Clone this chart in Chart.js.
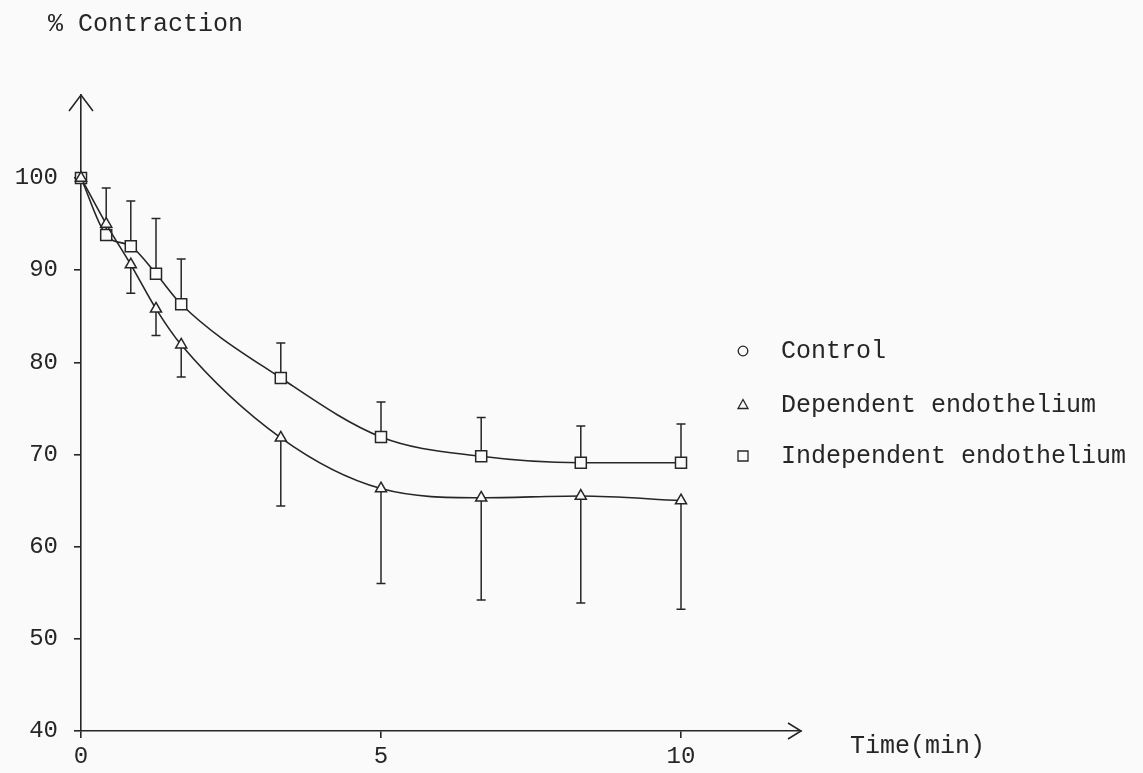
<!DOCTYPE html>
<html>
<head>
<meta charset="utf-8">
<script src="https://cdn.jsdelivr.net/npm/chart.js@4.4.1/dist/chart.umd.min.js"></script>
<style>
  html, body { margin: 0; padding: 0; background: #fafafa; }
  #wrap { width: 1143px; height: 773px; position: relative; }
  canvas { display: block; }
</style>
</head>
<body>
<div id="wrap"><canvas id="c" width="1143" height="773"></canvas></div>
<script>
// Sampling times (min) and mean % contraction with standard errors
const timeMin = [0, 0.42, 0.83, 1.25, 1.67, 3.33, 5, 6.67, 8.33, 10];
const dependentMean = [100, 95.0, 90.6, 85.8, 81.9, 71.8, 66.3, 65.3, 65.5, 65.0];
const dependentSem  = [0, 0, 3.1, 2.9, 3.5, 7.4, 10.3, 11.1, 11.6, 11.8];
const independentMean = [100, 93.8, 92.6, 89.6, 86.3, 78.3, 71.9, 69.8, 69.1, 69.1];
const independentSem  = [0, 5.1, 4.9, 6.0, 4.9, 3.8, 3.8, 4.2, 4.0, 4.2];

const yTicks = [40, 50, 60, 70, 80, 90, 100];
const xTicks = [0, 5, 10];
const seriesNames = ['Control', 'Dependent endothelium', 'Independent endothelium'];
const seriesMarkers = ['circle', 'triangle', 'rect'];

const INK = '#262626';
const PAPER = '#fafafa';
const FONT = '"Liberation Mono", "DejaVu Sans Mono", monospace';

function pts(xs, ys) { return xs.map((x, i) => ({ x: x, y: ys[i] })); }

// Error bars: dependent drawn downward, independent drawn upward
const errorBars = [
  { mean: dependentMean, err: dependentSem, dir: -1 },
  { mean: independentMean, err: independentSem, dir: 1 }
];

function drawMarker(ctx, kind, x, y) {
  ctx.beginPath();
  if (kind === 'circle') {
    ctx.arc(x, y, 4.8, 0, Math.PI * 2);
  } else if (kind === 'triangle') {
    ctx.moveTo(x, y - 5.5);
    ctx.lineTo(x + 5, y + 3.5);
    ctx.lineTo(x - 5, y + 3.5);
    ctx.closePath();
  } else {
    ctx.rect(x - 5, y - 5, 10, 10);
  }
  ctx.stroke();
}

const decor = {
  id: 'decor',
  beforeDatasetsDraw(chart) {
    const ctx = chart.ctx;
    const xs = chart.scales.x, ys = chart.scales.y;
    ctx.save();
    ctx.strokeStyle = INK;
    ctx.lineWidth = 1.5;
    errorBars.forEach(eb => {
      timeMin.forEach((t, i) => {
        if (!eb.err[i]) return;
        const px = xs.getPixelForValue(t);
        const y0 = ys.getPixelForValue(eb.mean[i]);
        const y1 = ys.getPixelForValue(eb.mean[i] + eb.dir * eb.err[i]);
        ctx.beginPath();
        ctx.moveTo(px, y0);
        ctx.lineTo(px, y1);
        ctx.moveTo(px - 4.5, y1);
        ctx.lineTo(px + 4.5, y1);
        ctx.stroke();
      });
    });
    ctx.restore();
  },
  afterDraw(chart) {
    const ctx = chart.ctx;
    const a = chart.chartArea;
    ctx.save();
    ctx.strokeStyle = INK;
    ctx.fillStyle = INK;
    ctx.lineWidth = 1.6;
    // arrowheads on both axes
    ctx.beginPath();
    ctx.moveTo(a.left - 12, a.top + 16);
    ctx.lineTo(a.left, a.top);
    ctx.lineTo(a.left + 12, a.top + 16);
    ctx.moveTo(a.right - 13, a.bottom - 8);
    ctx.lineTo(a.right, a.bottom);
    ctx.lineTo(a.right - 13, a.bottom + 8);
    ctx.stroke();

    // axis titles
    ctx.font = '25px ' + FONT;
    ctx.textBaseline = 'middle';
    ctx.textAlign = 'left';
    ctx.fillText('% Contraction', 48, 24);
    ctx.fillText('Time(min)', 850, 746);

    // legend
    const legendY = [351, 405, 456];
    ctx.lineWidth = 1.3;
    seriesNames.forEach((name, i) => {
      drawMarker(ctx, seriesMarkers[i], 743, legendY[i]);
      ctx.fillText(name, 781, legendY[i]);
    });
    ctx.restore();
  }
};

new Chart(document.getElementById('c'), {
  type: 'line',
  data: {
    datasets: [
      {
        label: seriesNames[1],
        data: pts(timeMin, dependentMean),
        pointStyle: 'triangle',
        pointRadius: 6.4,
        borderColor: INK,
        borderWidth: 1.6,
        pointBorderWidth: 1.5,
        pointBackgroundColor: PAPER,
        pointBorderColor: INK,
        cubicInterpolationMode: 'monotone',
        clip: false,
        fill: false
      },
      {
        label: seriesNames[2],
        data: pts(timeMin, independentMean),
        pointStyle: 'rect',
        pointRadius: 7.8,
        borderColor: INK,
        borderWidth: 1.6,
        pointBorderWidth: 1.5,
        pointBackgroundColor: PAPER,
        pointBorderColor: INK,
        cubicInterpolationMode: 'monotone',
        clip: false,
        fill: false
      }
    ]
  },
  options: {
    responsive: false,
    animation: false,
    devicePixelRatio: 1,
    layout: { padding: { top: 95, right: 342, left: 0, bottom: 0 } },
    plugins: { legend: { display: false }, tooltip: { enabled: false } },
    scales: {
      x: {
        type: 'linear',
        min: 0,
        max: 12,
        afterFit(scale) { scale.height = 42; },
        afterBuildTicks(scale) { scale.ticks = xTicks.map(v => ({ value: v })); },
        border: { display: true, color: INK, width: 1.6 },
        grid: { display: true, drawOnChartArea: false, drawTicks: true, tickLength: 7, color: INK, lineWidth: 1.6 },
        ticks: { color: INK, font: { family: FONT, size: 24 }, padding: 4, maxRotation: 0, autoSkip: false }
      },
      y: {
        type: 'linear',
        min: 40,
        max: 109,
        afterFit(scale) { scale.width = 81; },
        afterBuildTicks(scale) { scale.ticks = yTicks.map(v => ({ value: v })); },
        border: { display: true, color: INK, width: 1.6 },
        grid: { display: true, drawOnChartArea: false, drawTicks: true, tickLength: 7, color: INK, lineWidth: 1.6 },
        ticks: { color: INK, font: { family: FONT, size: 24 }, padding: 16, autoSkip: false }
      }
    }
  },
  plugins: [decor]
});
</script>
</body>
</html>
